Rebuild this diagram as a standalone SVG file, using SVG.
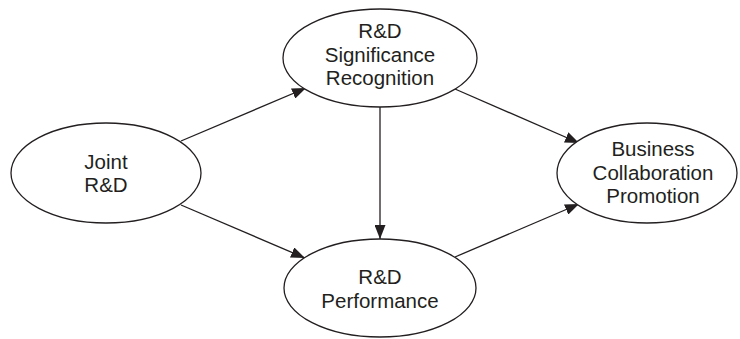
<svg xmlns="http://www.w3.org/2000/svg" width="740" height="339" viewBox="0 0 740 339">
<style>
.n ellipse{fill:#fff;stroke:#231f20;stroke-width:1.3}
.n text{font-family:"Liberation Sans",Arial,sans-serif;font-size:20.5px;fill:#231f20;text-anchor:middle}
.e line{stroke:#231f20;stroke-width:1.3}
</style>
<defs>
<marker id="ah" viewBox="0 0 14 11" refX="14" refY="5.5" markerWidth="14" markerHeight="11" markerUnits="userSpaceOnUse" orient="auto">
<path d="M0,0 L14,5.5 L0,11 Z" fill="#231f20"/>
</marker>
</defs>
<rect width="740" height="339" fill="#fff"/>
<g id="edges" class="e">
<line x1="181" y1="141" x2="306" y2="88" marker-end="url(#ah)"/>
<line x1="181" y1="205" x2="305" y2="258" marker-end="url(#ah)"/>
<line x1="380" y1="107" x2="380" y2="239" marker-end="url(#ah)"/>
<line x1="455" y1="89" x2="579" y2="143" marker-end="url(#ah)"/>
<line x1="455" y1="257" x2="579" y2="204" marker-end="url(#ah)"/>
</g>
<g id="joint" class="n">
<ellipse cx="106" cy="173" rx="95" ry="50"/>
<text x="106" y="169">Joint</text>
<text x="106" y="192">R&amp;D</text>
</g>
<g id="significance" class="n">
<ellipse cx="380" cy="58" rx="97" ry="49"/>
<text x="380" y="38">R&amp;D</text>
<text x="380" y="62">Significance</text>
<text x="380" y="85">Recognition</text>
</g>
<g id="performance" class="n">
<ellipse cx="380" cy="288" rx="96" ry="49"/>
<text x="380" y="284">R&amp;D</text>
<text x="380" y="308">Performance</text>
</g>
<g id="business" class="n">
<ellipse cx="647" cy="173" rx="90" ry="50"/>
<text x="653" y="156">Business</text>
<text x="653" y="180">Collaboration</text>
<text x="653" y="203">Promotion</text>
</g>
</svg>
